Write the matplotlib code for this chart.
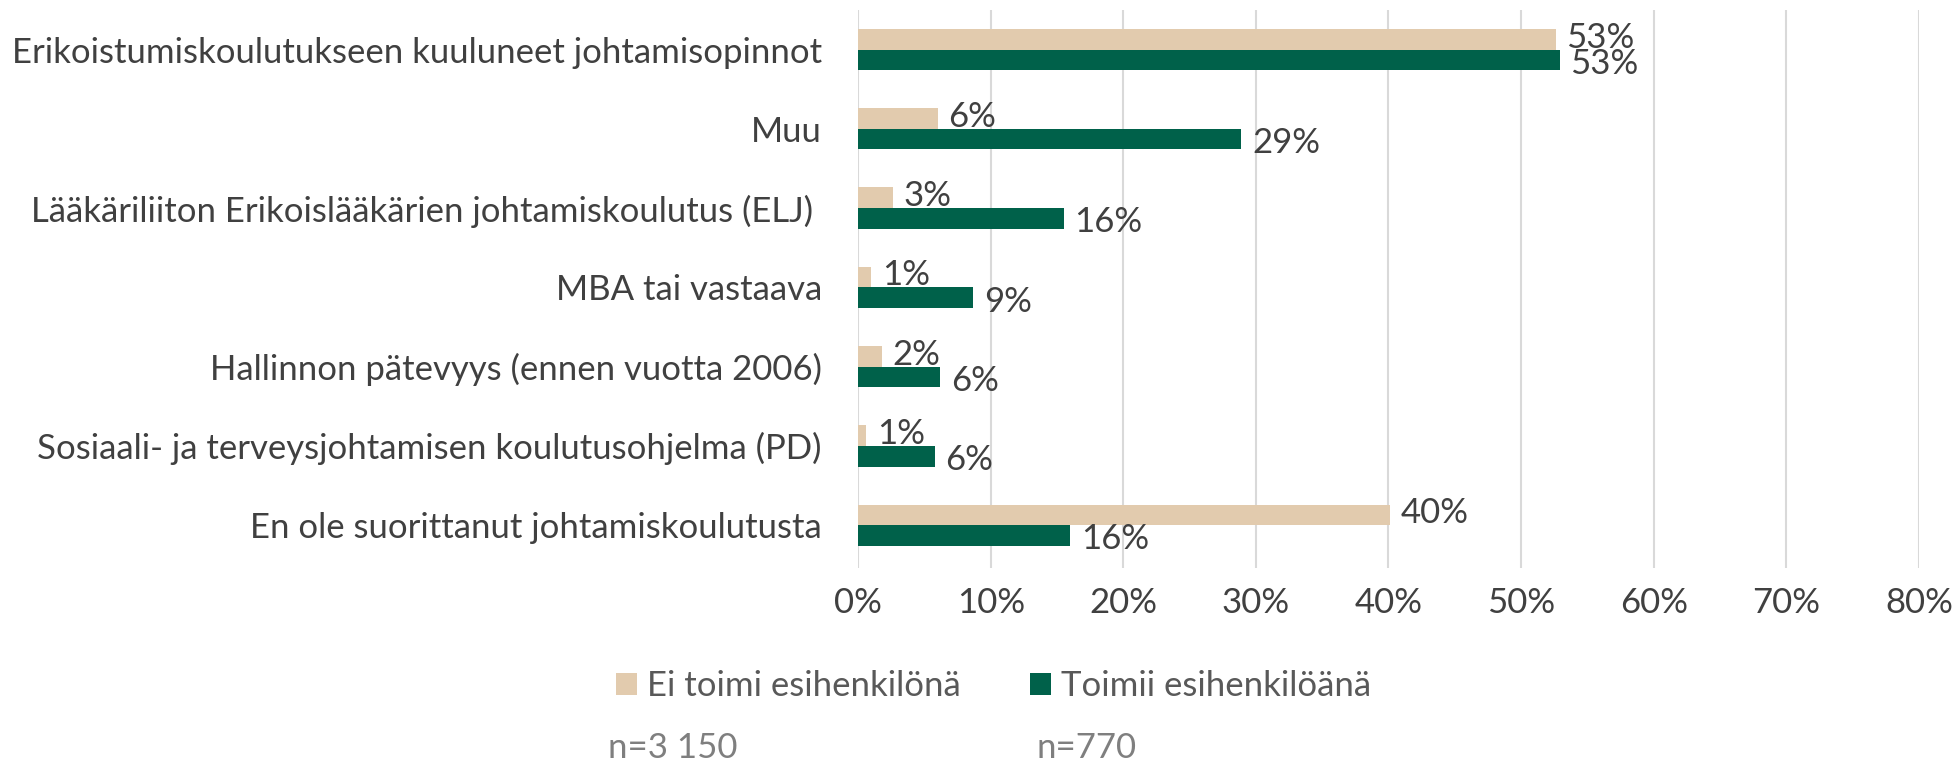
import numpy as np
from matplotlib import pyplot as plt

categories = [
	"Erikoistumiskoulutukseen kuuluneet johtamisopinnot",
	"Muu",
	"Lääkäriliiton Erikoislääkärien johtamiskoulutus (ELJ) ",
	"MBA tai vastaava",
	"Hallinnon pätevyys (ennen vuotta 2006)",
	"Sosiaali- ja terveysjohtamisen koulutusohjelma (PD)",
	"En ole suorittanut johtamiskoulutusta",
]
ei_toimi = [52.6, 6.0, 2.6, 1.0, 1.8, 0.6, 40.1]
toimii = [52.9, 28.9, 15.5, 8.7, 6.2, 5.8, 16.0]
series_names = ["Ei toimi esihenkilönä", "Toimii esihenkilöänä"]
n_labels = ["n=3 150", "n=770"]
x_ticks = [0, 10, 20, 30, 40, 50, 60, 70, 80]

beige = '#E2CBAE'
green = '#00614A'
text_col = '#404040'
fs = 25

plt.rcParams['font.family'] = ['Lato', 'DejaVu Sans']

fig = plt.figure(figsize=(19.56, 7.62), dpi=100)
ax = fig.add_axes([0.4387, 0.2546, 0.9810 - 0.4387, 0.987 - 0.2546])

y = np.arange(len(categories))
h = 0.26
ax.barh(y - h / 2, ei_toimi, height=h, color=beige, label=series_names[0], zorder=3)
ax.barh(y + h / 2, toimii, height=h, color=green, label=series_names[1], zorder=3)

for i in range(len(categories)):
	ax.text(ei_toimi[i] + 0.8, y[i] - h / 2 - 0.02, f"{round(ei_toimi[i])}%", va='center', ha='left',
		fontsize=fs, color=text_col, zorder=4)
	ax.text(toimii[i] + 0.8, y[i] + h / 2 + 0.05, f"{round(toimii[i])}%", va='center', ha='left',
		fontsize=fs, color=text_col, zorder=4)

ax.set_xlim(0, 80)
ax.set_ylim(len(categories) - 0.46, -0.5)
ax.set_xticks(x_ticks)
ax.set_xticklabels([f"{t}%" for t in x_ticks])
ax.set_yticks(y)
ax.set_yticklabels(categories)
ax.tick_params(axis='both', length=0, labelsize=fs, labelcolor=text_col)
ax.tick_params(axis='y', pad=26)
ax.tick_params(axis='x', pad=14)
ax.xaxis.grid(True, color='#D9D9D9', linewidth=1.5, zorder=0)
for s in ax.spines.values():
	s.set_visible(False)

fig.legend(loc='center', bbox_to_anchor=(0.508, 0.10), ncol=2, frameon=False,
	fontsize=fs, labelcolor='#595959', handlelength=0.6, handleheight=0.6,
	handletextpad=0.3, columnspacing=2.0)

fig.text(0.3437, 0.018, n_labels[0], fontsize=fs, color='#7F7F7F', ha='center', va='center')
fig.text(0.5556, 0.018, n_labels[1], fontsize=fs, color='#7F7F7F', ha='center', va='center')

fig.savefig('out.png', dpi=100)
